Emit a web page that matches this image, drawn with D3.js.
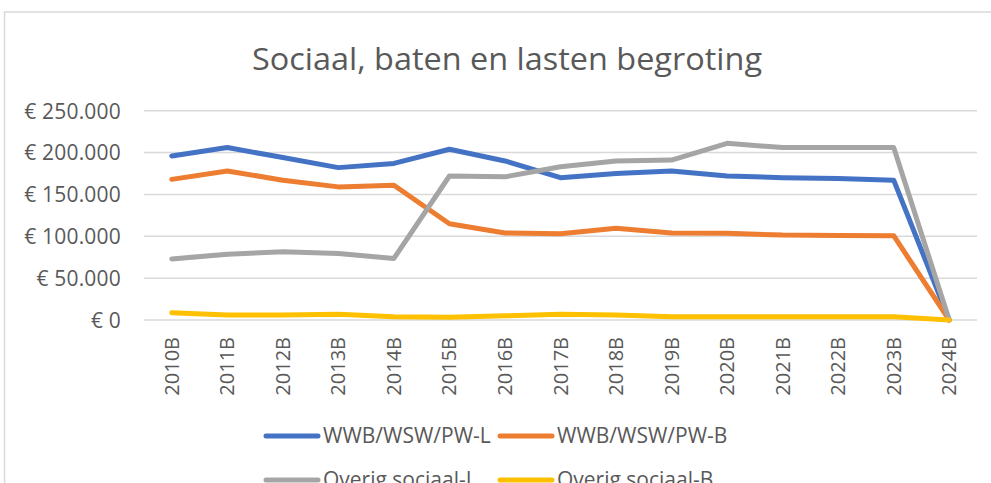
<!DOCTYPE html>
<html>
<head>
<meta charset="utf-8">
<script src="https://cdn.jsdelivr.net/npm/d3@7"></script>
<style>
  html, body { margin: 0; padding: 0; background: #fff; overflow: hidden; }
  text { font-family: "Open Sans", "Noto Sans", sans-serif; fill: #595959; }
</style>
</head>
<body>
<svg id="svg"></svg>
<script>
var years = ["2010B", "2011B", "2012B", "2013B", "2014B", "2015B", "2016B", "2017B",
             "2018B", "2019B", "2020B", "2021B", "2022B", "2023B", "2024B"];

var wwbL = [196000, 206000, 194000, 182000, 187000, 204000, 190000, 170000,
            175000, 178000, 172000, 170000, 169000, 167000, 0];
var wwbB = [168000, 178000, 167000, 159000, 161000, 115000, 104000, 103000,
            109500, 104000, 103500, 101500, 101000, 100700, 0];
var overigL = [73000, 78500, 81500, 79500, 73500, 172000, 171000, 183000,
               190000, 191000, 211000, 206000, 206000, 206000, 0];
var overigB = [8700, 6000, 6000, 7000, 4000, 3200, 5000, 7000,
               6000, 4000, 4000, 4000, 4000, 4000, 0];

var seriesNames = ["WWB/WSW/PW-L", "WWB/WSW/PW-B", "Overig sociaal-L", "Overig sociaal-B"];
var seriesColors = ["#4472C4", "#ED7D31", "#A5A5A5", "#FFC000"];
var yTicks = [0, 50000, 100000, 150000, 200000, 250000];

var series = [wwbL, wwbB, overigL, overigB];

var width = 991, height = 483;
var svg = d3.select("#svg").attr("width", width).attr("height", height);

// chart frame
svg.append("rect")
    .attr("x", 4.5).attr("y", 12)
    .attr("width", width + 10).attr("height", height + 10)
    .attr("fill", "none").attr("stroke", "#d9d9d9").attr("stroke-width", 1.5);

svg.append("text")
    .attr("x", 507).attr("y", 70)
    .attr("text-anchor", "middle")
    .style("font-size", "31px")
    .attr("textLength", 510)
    .attr("lengthAdjust", "spacingAndGlyphs")
    .text("Sociaal, baten en lasten begroting");

var plot = {x1: 144, x2: 977, y1: 110.7, y2: 320};

var x = d3.scaleBand().domain(years).range([plot.x1, plot.x2]);
var y = d3.scaleLinear().domain([0, 250000]).range([plot.y2, plot.y1]);

function euro(v) {
    return "€ " + d3.format(",")(v).replace(/,/g, ".");
}

// gridlines
svg.append("g")
    .selectAll("line")
    .data(yTicks)
    .enter()
    .append("line")
    .attr("x1", plot.x1).attr("x2", plot.x2)
    .attr("y1", function(d) { return y(d); })
    .attr("y2", function(d) { return y(d); })
    .attr("stroke", "#d9d9d9").attr("stroke-width", 1.5);

// y axis labels
var yAxis = d3.axisLeft(y).tickValues(yTicks).tickFormat(euro).tickSize(0).tickPadding(0);
var gy = svg.append("g").attr("transform", "translate(121,0)").call(yAxis);
gy.select(".domain").remove();
gy.selectAll("text")
    .style("font-size", "21px")
    .style("letter-spacing", "0.2px")
    .attr("dy", "0.35em")
    .attr("fill", "#595959");

// x axis labels
var xAxis = d3.axisBottom(x).tickSize(0).tickPadding(0);
var gx = svg.append("g").attr("transform", "translate(0," + plot.y2 + ")").call(xAxis);
gx.select(".domain").remove();
gx.selectAll("text")
    .style("font-size", "20px")
    .attr("fill", "#595959")
    .attr("transform", "rotate(-90)")
    .attr("text-anchor", "end")
    .attr("x", -17)
    .attr("y", 0)
    .attr("dy", "0.35em");

// lines
var line = d3.line()
    .x(function(d, i) { return x(years[i]) + x.bandwidth() / 2; })
    .y(function(d) { return y(d); });

svg.append("g")
    .selectAll("path")
    .data(series)
    .enter()
    .append("path")
    .attr("d", line)
    .attr("fill", "none")
    .attr("stroke", function(d, i) { return seriesColors[i]; })
    .attr("stroke-width", 5)
    .attr("stroke-linejoin", "round")
    .attr("stroke-linecap", "round");

// legend
var legendPos = [[266, 436], [500, 436], [266, 480], [500, 480]];
var lg = svg.append("g")
    .selectAll("g")
    .data(seriesNames)
    .enter()
    .append("g")
    .attr("transform", function(d, i) {
        return "translate(" + legendPos[i][0] + "," + legendPos[i][1] + ")";
    });
lg.append("line")
    .attr("x1", 0).attr("x2", 52)
    .attr("stroke", function(d, i) { return seriesColors[i]; })
    .attr("stroke-width", 5)
    .attr("stroke-linecap", "round");
lg.append("text")
    .attr("x", 57)
    .attr("dy", "0.35em")
    .style("font-size", "21px")
    .text(function(d) { return d; });
</script>
</body>
</html>
